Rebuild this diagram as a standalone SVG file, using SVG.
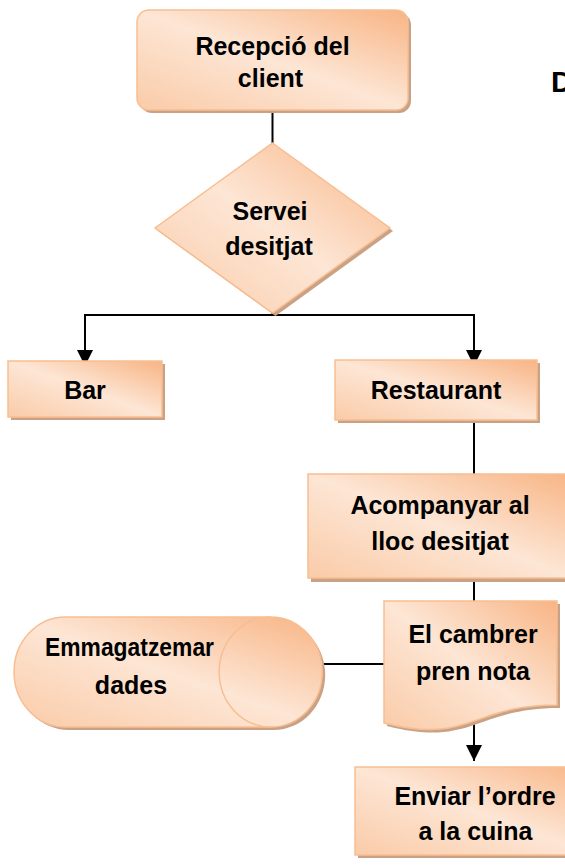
<svg xmlns="http://www.w3.org/2000/svg" width="565" height="865" viewBox="0 0 565 865">
  <defs>
    <linearGradient id="fillG" x1="1" y1="0" x2="0" y2="1">
      <stop offset="0" stop-color="#F8B484"/>
      <stop offset="0.5" stop-color="#FDE6D5"/>
      <stop offset="1" stop-color="#FACBA8"/>
    </linearGradient>
    <marker id="arrow" markerUnits="userSpaceOnUse" markerWidth="16" markerHeight="16" viewBox="0 0 16 16" refX="16" refY="8" orient="auto">
      <path d="M0,0 L16,8 L0,16 Z" fill="#000"/>
    </marker>
    <style>
      .shape { fill: url(#fillG); stroke: #F8BE92; stroke-width: 1.5; }
      .shadow { fill: #C9A286; }
      .conn { fill: none; stroke: #000; stroke-width: 2; }
      .lbl { font-family: "Liberation Sans", Arial, sans-serif; font-weight: bold; font-size: 25px; fill: #000; text-anchor: middle; }
    </style>
  </defs>

  <g id="connectors">
    <path class="conn" d="M272.5,110 V143"/>
    <path class="conn" d="M272.5,313 V315 H85 V366" marker-end="url(#arrow)"/>
    <path class="conn" d="M272.5,315 H474 V366" marker-end="url(#arrow)"/>
    <path class="conn" d="M474,420 V475"/>
    <path class="conn" d="M474,578 V601"/>
    <path class="conn" d="M322,664 H384"/>
    <path class="conn" d="M474,722 V761" marker-end="url(#arrow)"/>
  </g>

  <g id="recepcio">
    <rect class="shadow" x="140" y="13" width="271" height="100" rx="12"/>
    <rect class="shape" x="137" y="10" width="271" height="100" rx="12"/>
    <text class="lbl" x="272.5" y="55">Recepció del</text>
    <text class="lbl" x="270.5" y="87">client</text>
  </g>

  <g id="servei">
    <polygon class="shadow" points="275.5,146 393,231 275.5,316 158,231"/>
    <polygon class="shape" points="272.5,143 390,228 272.5,313 155,228"/>
    <text class="lbl" x="270" y="220">Servei</text>
    <text class="lbl" x="269" y="255">desitjat</text>
  </g>

  <g id="bar">
    <rect class="shadow" x="11" y="364" width="154" height="56"/>
    <rect class="shape" x="8" y="361" width="154" height="56"/>
    <text class="lbl" x="85" y="399">Bar</text>
  </g>

  <g id="restaurant">
    <rect class="shadow" x="338" y="363" width="202" height="60"/>
    <rect class="shape" x="335" y="360" width="202" height="60"/>
    <text class="lbl" x="436" y="399">Restaurant</text>
  </g>

  <g id="acompanyar">
    <rect class="shadow" x="311" y="478" width="265" height="104"/>
    <rect class="shape" x="308" y="474" width="265" height="104"/>
    <text class="lbl" x="440" y="514">Acompanyar al</text>
    <text class="lbl" x="440" y="550">lloc desitjat</text>
  </g>

  <g id="emmagatzemar">
    <path class="shadow" d="M68.5,620 H273.7 A51.5,55 0 0 1 273.7,730 H68.5 A51.5,55 0 0 1 68.5,620 Z"/>
    <path class="shape" d="M65.5,617 H270.7 A51.5,55 0 0 1 270.7,727 H65.5 A51.5,55 0 0 1 65.5,617 Z"/>
    <path d="M270.7,617 A51.5,55 0 0 0 270.7,727" fill="none" stroke="#F8BE92" stroke-width="1.5"/>
    <text class="lbl" x="129.5" y="656" textLength="169" lengthAdjust="spacingAndGlyphs">Emmagatzemar</text>
    <text class="lbl" x="131" y="694">dades</text>
  </g>

  <g id="cambrer">
    <path class="shadow" d="M387,604 H560 V708 C473.5,708 473.5,748 387,726 Z"/>
    <path class="shape" d="M384,601 H557 V705 C470.5,705 470.5,745 384,723 Z"/>
    <text class="lbl" x="473" y="643">El cambrer</text>
    <text class="lbl" x="473" y="680">pren nota</text>
  </g>

  <g id="enviar">
    <rect class="shadow" x="358" y="770" width="240" height="88"/>
    <rect class="shape" x="355" y="767" width="240" height="88"/>
    <text class="lbl" x="475" y="805">Enviar l’ordre</text>
    <text class="lbl" x="475.5" y="840">a la cuina</text>
  </g>

  <g id="title">
    <text x="551" y="92" font-family="Liberation Sans, Arial, sans-serif" font-weight="bold" font-size="30" fill="#000">D</text>
  </g>
</svg>
